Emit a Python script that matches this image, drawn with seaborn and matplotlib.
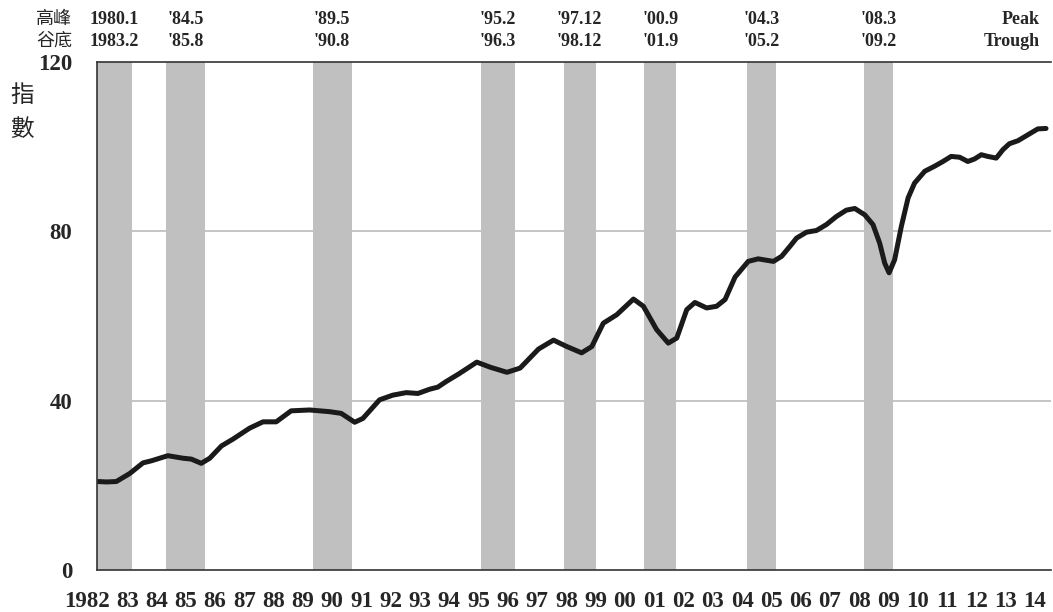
import matplotlib
matplotlib.use("Agg")
import matplotlib.pyplot as plt
import matplotlib.transforms as mtransforms
import seaborn as sns
import pandas as pd

# ---- data -------------------------------------------------------------
years = [1982.00, 1982.30, 1982.63, 1983.09, 1983.54, 1983.83, 1984.39, 1984.91,
         1985.19, 1985.53, 1985.82, 1986.22, 1986.61, 1987.18, 1987.64, 1988.09,
         1988.60, 1989.23, 1989.91, 1990.31, 1990.77, 1991.05, 1991.62, 1992.07,
         1992.53, 1992.93, 1993.33, 1993.61, 1993.89, 1994.32, 1994.94, 1995.40,
         1995.97, 1996.42, 1997.05, 1997.56, 1998.01, 1998.52, 1998.87, 1999.26,
         1999.72, 2000.29, 2000.63, 2001.08, 2001.48, 2001.77, 2002.11, 2002.39,
         2002.79, 2003.13, 2003.42, 2003.76, 2004.21, 2004.55, 2005.07, 2005.35,
         2005.64, 2005.86, 2006.20, 2006.54, 2006.88, 2007.22, 2007.56, 2007.85,
         2008.19, 2008.47, 2008.70, 2008.87, 2009.02, 2009.21, 2009.44, 2009.67,
         2009.89, 2010.24, 2010.58, 2010.86, 2011.14, 2011.43, 2011.71, 2011.94,
         2012.17, 2012.39, 2012.68, 2012.91, 2013.13, 2013.42, 2013.76, 2014.10,
         2014.38]
index_values = [20.9, 20.8, 20.9, 22.8, 25.3, 25.8, 27.0, 26.4,
                26.2, 25.2, 26.4, 29.3, 30.9, 33.5, 35.0, 35.0,
                37.6, 37.8, 37.4, 37.0, 34.9, 35.8, 40.2, 41.3,
                41.9, 41.7, 42.7, 43.2, 44.5, 46.3, 49.1, 47.9,
                46.7, 47.7, 52.2, 54.3, 52.8, 51.3, 52.8, 58.3,
                60.3, 64.0, 62.3, 56.8, 53.6, 54.8, 61.5, 63.2,
                61.9, 62.3, 63.9, 69.2, 72.9, 73.5, 72.9, 74.1,
                76.5, 78.4, 79.8, 80.2, 81.6, 83.5, 85.0, 85.4,
                83.9, 81.6, 77.2, 72.5, 70.2, 73.3, 81.2, 87.9,
                91.4, 94.2, 95.4, 96.5, 97.7, 97.5, 96.5, 97.1,
                98.1, 97.7, 97.3, 99.3, 100.7, 101.4, 102.8, 104.2,
                104.3]

peak_labels = ["1980.1", "'84.5", "'89.5", "'95.2", "'97.12", "'00.9", "'04.3", "'08.3"]
trough_labels = ["1983.2", "'85.8", "'90.8", "'96.3", "'98.12", "'01.9", "'05.2", "'09.2"]
peak_year = [1980, 1984, 1989, 1995, 1997, 2000, 2004, 2008]
peak_month = [1, 5, 5, 2, 12, 9, 3, 3]
trough_year = [1983, 1985, 1990, 1996, 1998, 2001, 2005, 2009]
trough_month = [2, 8, 8, 3, 12, 9, 2, 2]

tick_years = list(range(1982, 2015))
tick_labels = ["1982"] + ["%02d" % (y % 100) for y in range(1983, 2015)]
y_ticks = [0, 40, 80, 120]

# ---- style ------------------------------------------------------------
sns.set_style("white")
plt.rcParams['font.family'] = ['Liberation Serif', 'Noto Sans CJK TC']
CJK = ['Noto Sans CJK TC', 'DejaVu Sans']

W, H = 1053, 612
fig = plt.figure(figsize=(W / 100, H / 100), dpi=100)
ax_left, ax_right, ax_top, ax_bottom = 97, 1051, 62, 570
ax = fig.add_axes([ax_left / W, 1 - ax_bottom / H,
                   (ax_right - ax_left) / W, (ax_bottom - ax_top) / H])

xmin, xmax = 1981.97, 2014.55
ax.set_xlim(xmin, xmax)
ax.set_ylim(0, 120)

# gridlines
for g in [40, 80]:
    ax.axhline(g, color='#c0c0c0', lw=1.3, zorder=1)

# recession bands + labels
trans = mtransforms.blended_transform_factory(ax.transData, ax.transAxes)
for pl, tl, py, pm, ty, tm in zip(peak_labels, trough_labels, peak_year,
                                  peak_month, trough_year, trough_month):
    s = py + (pm - 1) / 12.0
    e = ty + tm / 12.0
    ax.axvspan(s, e, color='#c0c0c0', lw=0, zorder=2)
    c = (max(s, xmin) + e) / 2.0
    ax.text(c, (ax_bottom - 19) / (ax_bottom - ax_top), pl, transform=trans,
            ha='center', va='center', fontsize=13, fontweight='bold',
            clip_on=False)
    ax.text(c, (ax_bottom - 41) / (ax_bottom - ax_top), tl, transform=trans,
            ha='center', va='center', fontsize=13, fontweight='bold',
            clip_on=False)

ax.text(0.9885, (ax_bottom - 19) / (ax_bottom - ax_top), 'Peak',
        transform=ax.transAxes, ha='right', va='center', fontsize=13,
        fontweight='bold', clip_on=False)
ax.text(0.9885, (ax_bottom - 41) / (ax_bottom - ax_top), 'Trough',
        transform=ax.transAxes, ha='right', va='center', fontsize=13,
        fontweight='bold', clip_on=False)

fig.text(54 / W, 1 - 19 / H, '高峰', family=CJK, fontsize=13,
         ha='center', va='center')
fig.text(54 / W, 1 - 41 / H, '谷底', family=CJK, fontsize=13,
         ha='center', va='center')
fig.text(22 / W, 1 - 95 / H, '指', family=CJK, fontsize=17,
         ha='center', va='center')
fig.text(22 / W, 1 - 129 / H, '數', family=CJK, fontsize=17,
         ha='center', va='center')

# the index line
df = pd.DataFrame({'year': years, 'index': index_values})
sns.lineplot(data=df, x='year', y='index', ax=ax, color='#1a1a1a',
             linewidth=3.6, zorder=5, solid_joinstyle='round',
             solid_capstyle='round')

ax.set_xlabel('')
ax.set_ylabel('')
ax.set_xticks(tick_years)
ax.set_xticklabels(tick_labels, fontsize=16.5, fontweight='bold')
ax.set_yticks(y_ticks)
ax.set_yticklabels([str(v) for v in y_ticks], fontsize=16.5, fontweight='bold')
ax.tick_params(axis='x', direction='in', length=6, width=1.1, color='#444444',
               pad=15)
ax.tick_params(axis='y', direction='in', length=7, width=1.1, color='#444444',
               pad=18)

first = ax.get_xticklabels()[0]
first.set_transform(first.get_transform() +
                    mtransforms.ScaledTranslation(-10.5 / 100, 0, fig.dpi_scale_trans))

for side in ['left', 'bottom', 'top']:
    ax.spines[side].set_color('#333333')
    ax.spines[side].set_linewidth(1.2)
    ax.spines[side].set_zorder(6)
ax.spines['right'].set_visible(False)

fig.savefig('out.png', dpi=100)
